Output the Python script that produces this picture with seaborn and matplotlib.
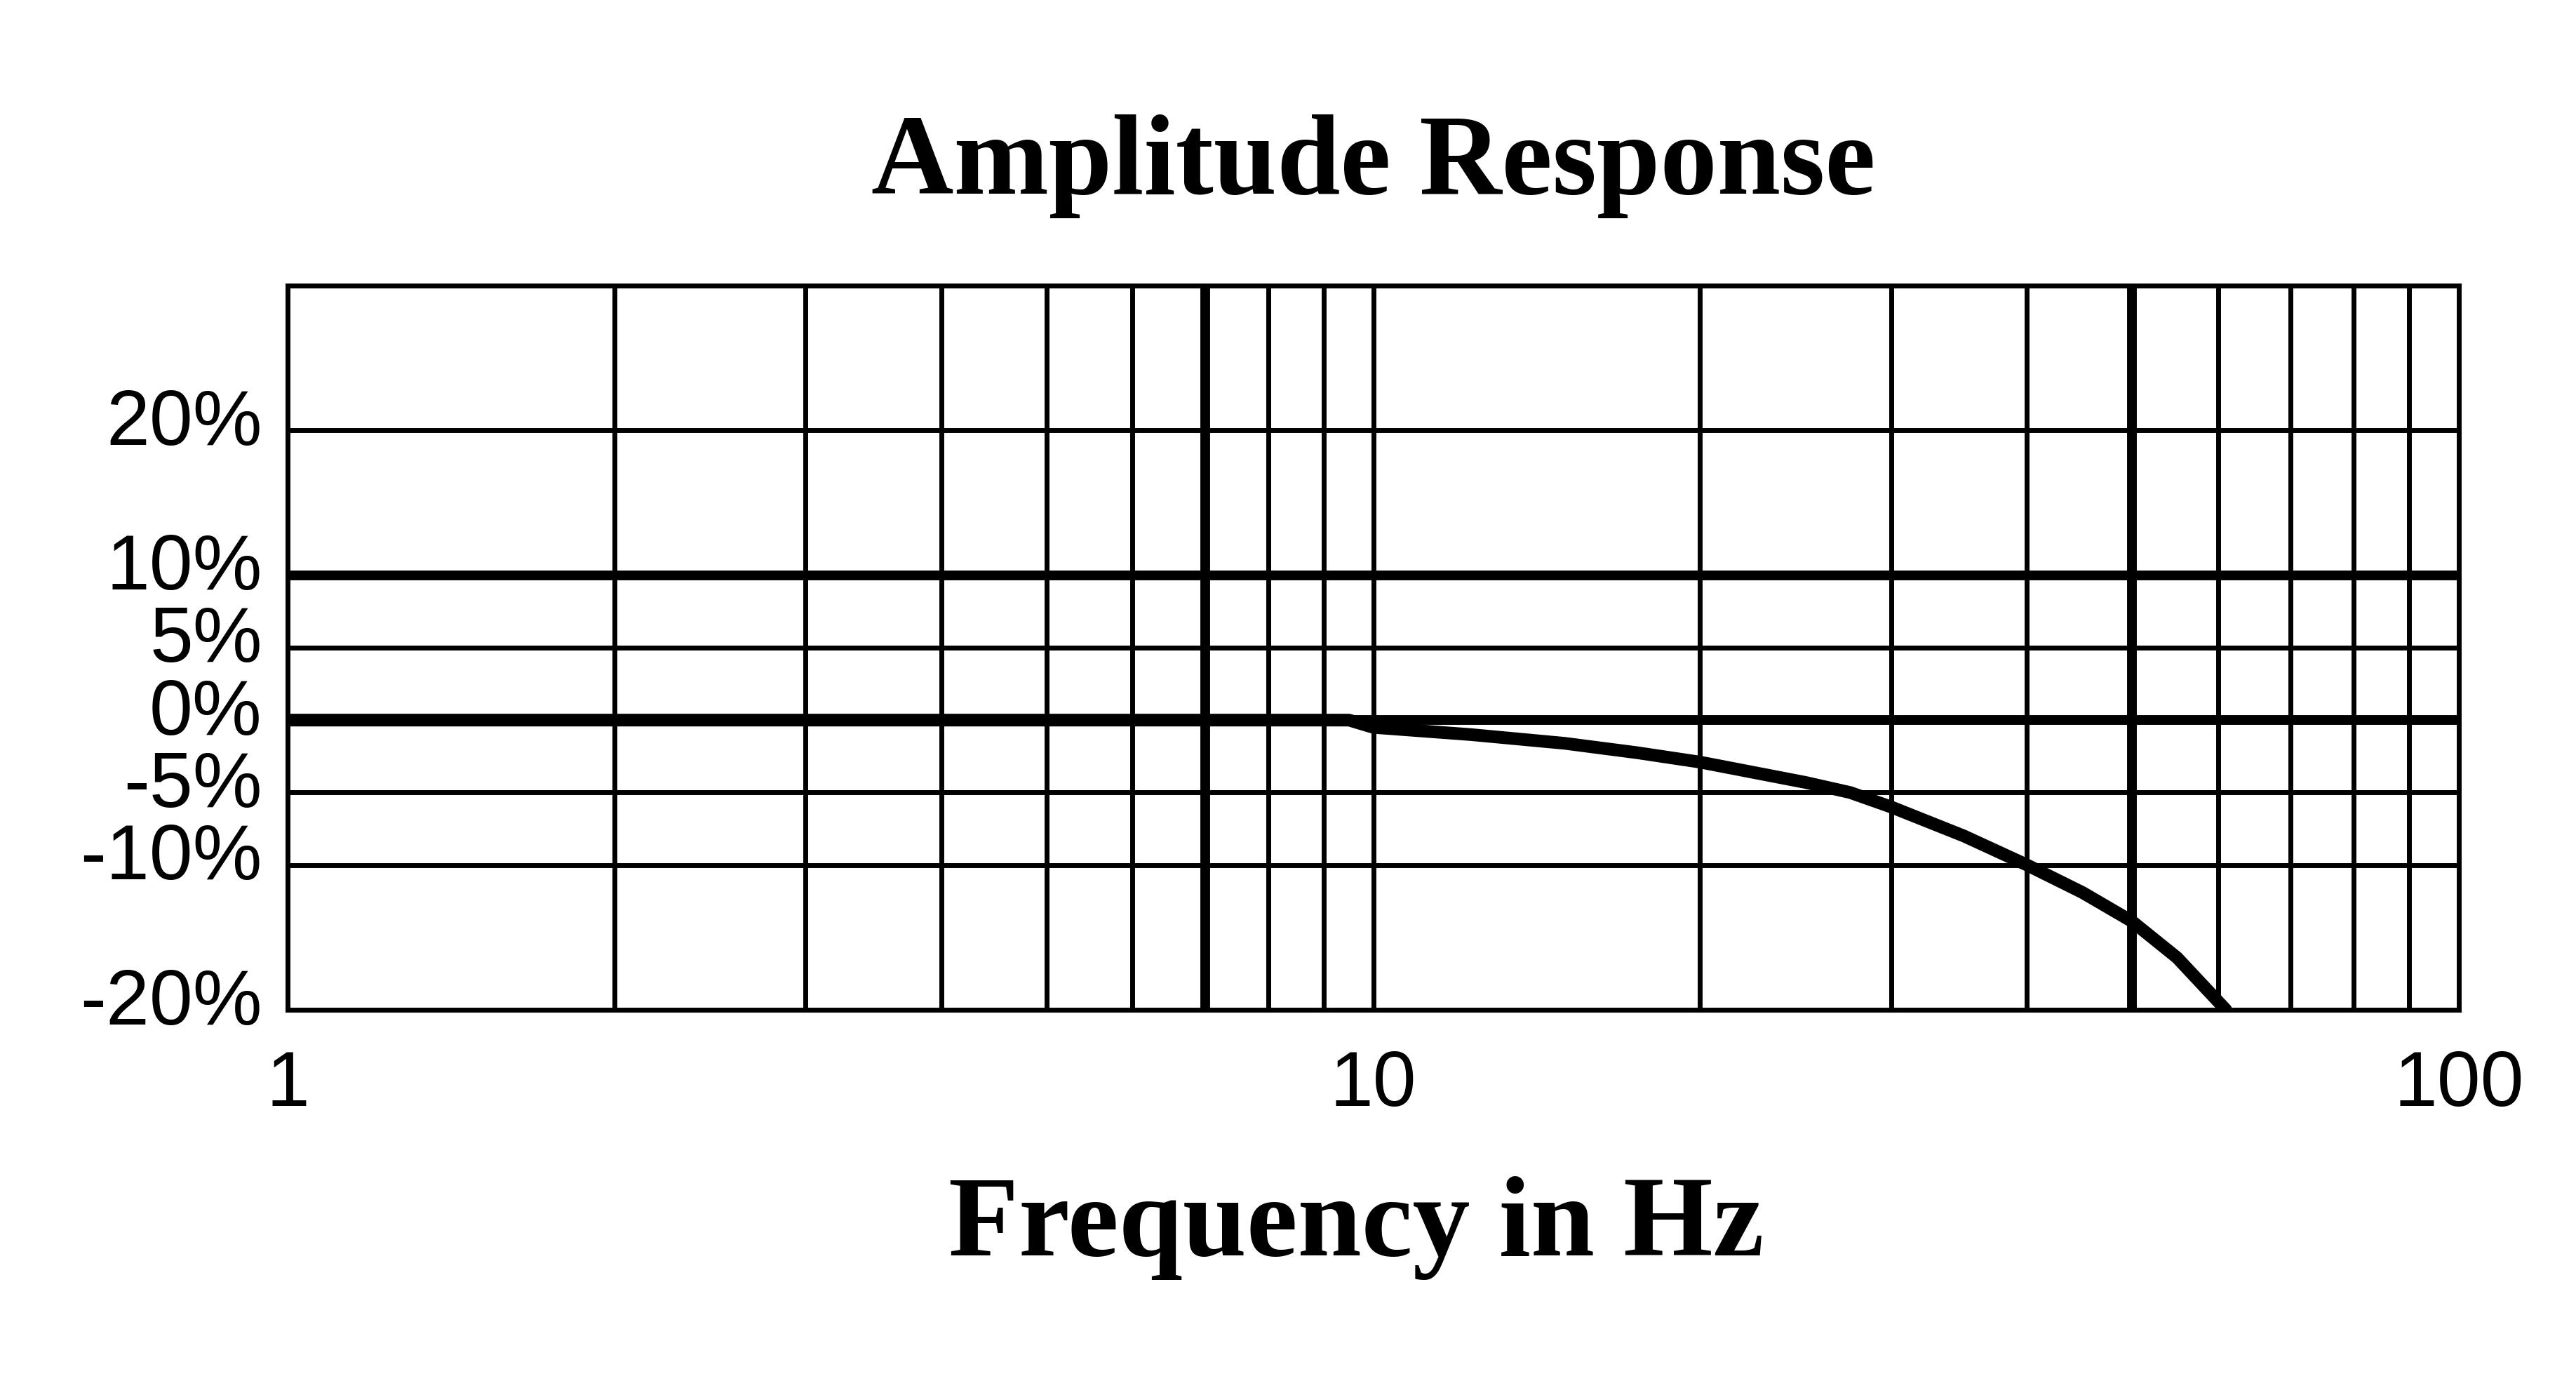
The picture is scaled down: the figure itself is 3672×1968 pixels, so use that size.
import matplotlib
matplotlib.use("Agg")
import matplotlib.pyplot as plt
import matplotlib.transforms as mtransforms
from matplotlib.ticker import NullLocator
import seaborn as sns
import pandas as pd

# Amplitude response
freq_hz = [1, 2, 5, 9.5, 10, 12.3, 15, 17.5, 20, 25, 27.5, 30, 35, 40, 45,
           50, 55, 61]
amplitude_pct = [0, 0, 0, 0, -0.5, -1.0, -1.6, -2.25, -2.9, -4.3, -5.0, -6.0,
                 -8.0, -10.0, -11.9, -13.9, -16.4, -20.0]

# grid layout of the chart
grid_freqs = [2, 3, 4, 5, 6, 7, 8, 9, 10, 20, 30, 40, 50, 60, 70, 80, 90]
thick_freqs = [7, 50]
y_ticks = [-20, -10, -5, 0, 5, 10, 20]
y_tick_labels = ["-20%", "-10%", "-5%", "0%", "5%", "10%", "20%"]
thick_levels = [0, 10]
x_ticks = [1, 10, 100]
x_tick_labels = ["1", "10", "100"]

TICK_FONT = "Liberation Sans"
SERIF_FONT = "Liberation Serif"


def make_plot():
    sns.set_style("white")
    plt.rcParams["text.color"] = "black"
    plt.rcParams["xtick.color"] = "black"
    plt.rcParams["ytick.color"] = "black"
    df = pd.DataFrame({"freq": freq_hz, "amp": amplitude_pct})

    fig = plt.figure(figsize=(36.73, 19.68), dpi=100)
    ax = fig.add_axes([0.1116, 0.2688, 0.8427, 0.5244])

    # grid lines
    for f in grid_freqs:
        ax.axvline(f, color="black", lw=10 if f in thick_freqs else 5, zorder=1)
    for lvl in y_ticks:
        if lvl == -20:
            continue
        ax.axhline(lvl, color="black", lw=10 if lvl in thick_levels else 5, zorder=1)

    sns.lineplot(data=df, x="freq", y="amp", color="black", linewidth=13,
                 ax=ax, zorder=3)

    ax.set_xscale("log")
    ax.set_xlim(1, 100)
    ax.set_ylim(-20, 30)

    ax.set_xticks(x_ticks, x_tick_labels)
    ax.xaxis.set_minor_locator(NullLocator())
    ax.set_yticks(y_ticks, y_tick_labels)
    ax.tick_params(length=0, colors="black")
    ax.tick_params(axis="x", pad=40)
    ax.tick_params(axis="y", pad=26)

    for lbl in ax.get_xticklabels() + ax.get_yticklabels():
        lbl.set_family(TICK_FONT)
        lbl.set_fontsize(80)
        lbl.set_color("black")
    # y labels sit slightly above their grid lines
    shift = mtransforms.ScaledTranslation(0, 0.2, fig.dpi_scale_trans)
    for lbl in ax.get_yticklabels():
        lbl.set_transform(lbl.get_transform() + shift)

    for sp in ax.spines.values():
        sp.set_visible(True)
        sp.set_color("black")
        sp.set_linewidth(5)

    ax.set_title("Amplitude Response", family=SERIF_FONT, fontweight="bold",
                 fontsize=117, pad=94, color="black")
    ax.set_xlabel("Frequency in Hz", family=SERIF_FONT, fontweight="bold",
                  fontsize=118, color="black")
    ax.xaxis.set_label_coords(0.492, -0.23)
    ax.set_ylabel("")

    fig.savefig("out.png", dpi=100, facecolor="white")
    print("Saved plot to out.png")


if __name__ == "__main__":
    make_plot()
